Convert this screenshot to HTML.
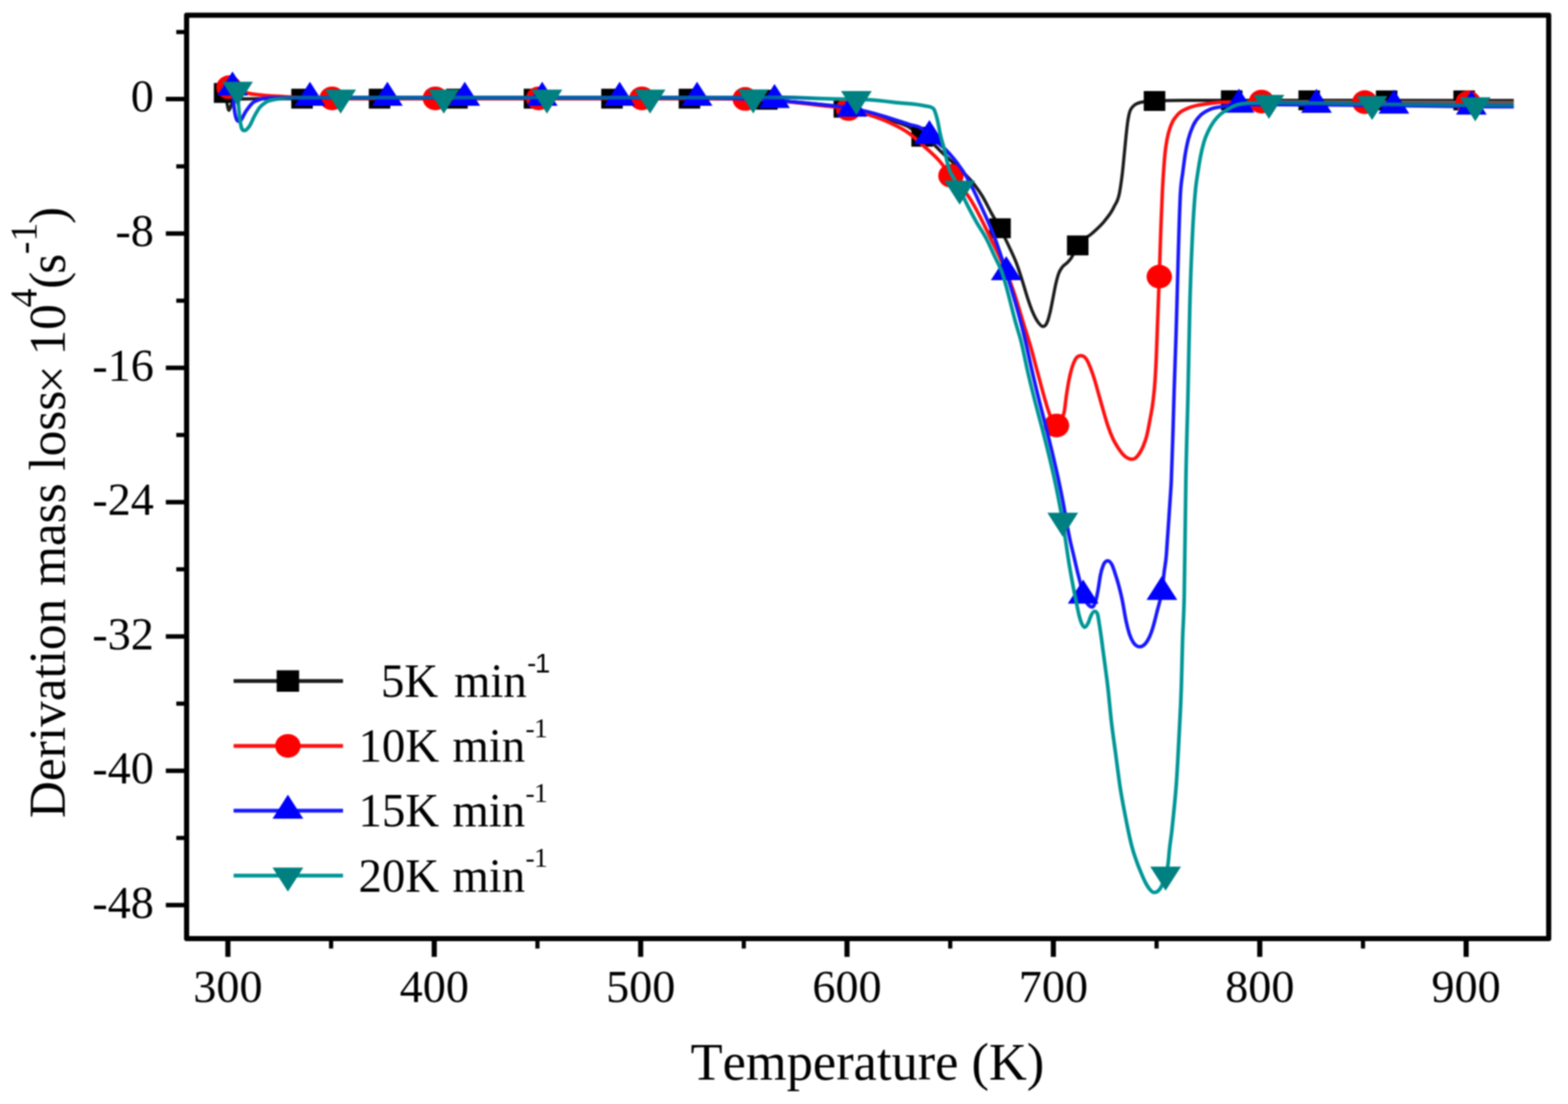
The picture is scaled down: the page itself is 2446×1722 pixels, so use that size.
<!DOCTYPE html>
<html lang="en">
<head>
<meta charset="utf-8">
<title>Derivation mass loss vs temperature</title>
<style>
html,body{margin:0;padding:0;background:#fff;}
body{width:2446px;height:1722px;overflow:hidden;}
svg{display:block;filter:blur(1.1px);}
text{font-family:"Liberation Serif","DejaVu Serif",serif;fill:#000;font-kerning:none;}
.tk{font-size:72px;}
.ttl{font-size:81.5px;}
.lg{font-size:73px;}
.sans{font-family:"Liberation Sans","DejaVu Sans",sans-serif;}
</style>
</head>
<body>
<svg width="2446" height="1722" viewBox="0 0 2446 1722">
<rect width="2446" height="1722" fill="#fff"/>
<defs><linearGradient id="tg" gradientUnits="userSpaceOnUse" x1="0" y1="0" x2="2446" y2="0"><stop offset="0.0000" stop-color="#009696"/><stop offset="0.1738" stop-color="#009696"/><stop offset="0.1860" stop-color="#0060aa"/><stop offset="0.4906" stop-color="#0060aa"/><stop offset="0.5274" stop-color="#009696"/><stop offset="0.7870" stop-color="#009696"/><stop offset="0.8136" stop-color="#00709a"/><stop offset="1.0000" stop-color="#00709a"/></linearGradient><linearGradient id="rg" gradientUnits="userSpaceOnUse" x1="0" y1="0" x2="2446" y2="0"><stop offset="0.0000" stop-color="#ff1010"/><stop offset="0.7890" stop-color="#ff1010"/><stop offset="0.8177" stop-color="#6e5555"/><stop offset="1.0000" stop-color="#6e5555"/></linearGradient></defs>
<g fill="none" stroke-linejoin="round" stroke-linecap="butt">
<g>
<path d="M350.4 145C351.4 149.3 352.5 153.8 353.5 158C354.7 162.8 355.8 172 357 172C358.7 172 360.3 163.8 362 161C364.7 156.6 367.3 154.7 370 154.5C380 153.9 390 153.9 400 153.9C633.3 153.9 866.7 153.9 1100 153.9C1116.7 153.9 1133.3 154 1150 154.3C1166.7 154.6 1183.3 154.8 1200 155.8C1212.3 156.5 1224.7 157.7 1237 158.8C1251.3 160.1 1265.7 161.3 1280 163C1292.4 164.5 1304.8 165.7 1317.2 168C1330.4 170.5 1343.7 173.8 1356.9 177.5C1366.9 180.3 1377 183.6 1387 187C1397.5 190.6 1407.9 192.3 1418.4 198.5C1425.1 202.5 1431.8 208.6 1438.5 213.3C1444.9 217.8 1451.2 220.4 1457.6 226.2C1460.2 228.6 1462.8 231.4 1465.4 234C1473.6 242.1 1481.8 249 1490 257C1500 266.8 1510 274.8 1520 288C1524.1 293.4 1528.1 298.9 1532.2 305.6C1536.9 313.2 1541.5 323.2 1546.2 331.7C1550.8 340 1555.4 347.2 1560 356C1562.7 361.1 1565.3 366.5 1568 372C1570.9 377.9 1573.7 383.7 1576.6 390C1579.8 396.9 1582.9 403.4 1586.1 411.8C1589 419.5 1591.9 428.7 1594.8 437.9C1597.4 446.2 1600.1 456 1602.7 464C1605.3 471.9 1607.9 479.6 1610.5 485.8C1613.4 492.7 1616.3 498.4 1619.2 502.4C1621.8 506 1624.5 509.3 1627.1 509.3C1629.4 509.3 1631.7 507.5 1634 501.5C1635.5 497.7 1636.9 492.1 1638.4 485.8C1639.9 479.6 1641.3 471.3 1642.8 464C1644.2 456.8 1645.7 448.5 1647.1 442.3C1648.6 436 1650 430.7 1651.5 426.6C1653.5 420.9 1655.6 418.8 1657.6 416.1C1659.9 413 1662.2 412.3 1664.5 410C1666.5 407.9 1668.6 406 1670.6 403.1C1674.1 398.1 1677.7 388.3 1681.2 382.8C1688.5 371.4 1695.7 371.2 1703 364.5C1710 358.1 1717 352.7 1724 343.5C1728.6 337.5 1733.2 332.6 1737.8 322.6C1740.7 316.3 1743.6 315.9 1746.5 300C1748 291.9 1749.4 282.1 1750.9 269.4C1752.1 259.3 1753.2 246.2 1754.4 234.5C1755.3 225.8 1756.1 216.5 1757 208.4C1757.6 202.5 1758.3 196.4 1758.9 191.7C1759.7 186 1760.4 182.2 1761.2 178.6C1763.3 168.9 1765.3 168.9 1767.4 166C1770.1 162.2 1772.8 162.1 1775.5 160.9C1778.3 159.6 1781.2 159.4 1784 158.8C1789.7 157.7 1795.3 157.6 1801 157.3C1817.3 156.4 1833.7 156.4 1850 156.4C2020.5 156.4 2190.9 156.6 2361.4 156.7" stroke="#1c1c1c" stroke-width="5"/>
<rect x="333.6" y="129.5" width="33.6" height="31" fill="#000000"/>
<rect x="454.4" y="138.4" width="33.6" height="31" fill="#000000"/>
<rect x="575.3" y="138.4" width="33.6" height="31" fill="#000000"/>
<rect x="696.1" y="138.4" width="33.6" height="31" fill="#000000"/>
<rect x="817" y="138.4" width="33.6" height="31" fill="#000000"/>
<rect x="937.9" y="138.4" width="33.6" height="31" fill="#000000"/>
<rect x="1058.7" y="138.4" width="33.6" height="31" fill="#000000"/>
<rect x="1179.5" y="140.1" width="33.6" height="31" fill="#000000"/>
<rect x="1300.4" y="152.5" width="33.6" height="31" fill="#000000"/>
<rect x="1421.7" y="197.8" width="33.6" height="31" fill="#000000"/>
<rect x="1543.2" y="340.5" width="33.6" height="31" fill="#000000"/>
<rect x="1664.4" y="367.3" width="33.6" height="31" fill="#000000"/>
<rect x="1784.2" y="142" width="33.6" height="31" fill="#000000"/>
<rect x="1904.6" y="140.9" width="33.6" height="31" fill="#000000"/>
<rect x="2025.5" y="141" width="33.6" height="31" fill="#000000"/>
<rect x="2146.3" y="141.1" width="33.6" height="31" fill="#000000"/>
<rect x="2267.2" y="141.1" width="33.6" height="31" fill="#000000"/>
</g>
<g>
<path d="M357.2 136.1C361.5 137.4 365.7 138.6 370 140C375 141.6 380 143.7 385 145C393.3 147.2 401.7 147.6 410 148.5C420 149.6 430 149.9 440 150.5C450 151.1 460 151.8 470 152.2C486.7 152.9 503.3 153.4 520 153.4C713.3 153.4 906.7 153.4 1100 153.4C1116.7 153.4 1133.3 153.6 1150 154C1166.7 154.4 1183.3 154.8 1200 156C1212.3 156.9 1224.7 158.2 1237 159.5C1251.3 161 1265.7 162.8 1280 164.5C1294.3 166.2 1308.7 166.9 1323 170C1333.9 172.3 1344.8 175.6 1355.7 179.2C1366.1 182.6 1376.6 186.2 1387 191C1397.5 195.8 1407.9 200.5 1418.4 208.2C1426.2 213.9 1434.1 221.5 1441.9 228.6C1449.7 235.7 1457.6 242 1465.4 251C1471.4 257.9 1477.4 266.7 1483.4 274.2C1492.7 285.8 1502 293 1511.3 307C1522.4 323.6 1533.4 346.5 1544.5 369.7C1557 395.9 1569.5 419.5 1582 456.8C1587.3 472.7 1592.7 491.7 1598 509C1601.2 519.4 1604.4 528.9 1607.6 540C1611.1 552 1614.5 566.1 1618 578.7C1624.3 601.5 1630.5 627.3 1636.8 644.5C1638.9 650.2 1640.9 656.3 1643 660C1644.7 663 1646.3 666 1648 666C1649.7 666 1651.3 663.2 1653 660C1654.3 657.4 1655.7 653.2 1657 650C1658 647.6 1659 647.9 1660 643.2C1661.2 637.8 1662.3 625 1663.5 617.1C1665 607.2 1666.4 598.3 1667.9 591C1669.3 583.9 1670.8 578.4 1672.2 573.6C1674 567.7 1675.7 563.7 1677.5 560.5C1680.4 555.3 1683.3 554.8 1686.2 554.8C1689.1 554.8 1692 556.1 1694.9 560.5C1696.9 563.6 1699 568.5 1701 573.6C1703 578.7 1705.1 584.5 1707.1 591C1709.2 597.8 1711.4 606 1713.5 613.5C1716 622.3 1718.5 631.4 1721 640C1723.5 648.6 1726 657.7 1728.5 665C1731 672.3 1733.5 678.6 1736 684C1738.8 690.1 1741.7 694.6 1744.5 698.9C1747.4 703.3 1750.3 707.4 1753.2 710.2C1755.5 712.4 1757.8 714 1760.1 715C1761.9 715.8 1763.6 716.3 1765.4 716.3C1767.1 716.3 1768.9 716.1 1770.6 715C1772.6 713.7 1774.7 711.4 1776.7 708.4C1778.7 705.4 1780.8 701.9 1782.8 697.1C1784.8 692.3 1786.9 687.9 1788.9 679.7C1790.6 672.7 1792.4 663.2 1794.1 653.6C1795.6 645.5 1797 639.8 1798.5 627.4C1799.7 617.6 1800.8 610.1 1802 591C1802.6 581.2 1803.2 570.1 1803.8 556.1C1804.4 542.9 1804.9 525.4 1805.5 510C1806.5 483.8 1807.4 459.4 1808.4 431.5C1809.2 408.4 1810 380.6 1810.8 358.7C1811.6 336.8 1812.4 316.3 1813.2 300C1813.9 286.4 1814.5 275.8 1815.2 266C1815.9 255.7 1816.6 247.2 1817.3 240C1818.4 228.7 1819.5 223.4 1820.6 217.1C1822.6 205.4 1824.7 201.1 1826.7 195.3C1830.2 185.5 1833.6 183 1837.1 178.8C1842.1 172.8 1847 171.6 1852 169.2C1857.8 166.4 1863.6 165.3 1869.4 164C1875.2 162.7 1881 162.1 1886.8 161.4C1892.6 160.7 1898.4 159.9 1904.2 159.6C1925 158.4 1945.8 158.4 1966.6 158.4C2020.7 158.4 2074.8 159.1 2128.9 159.3C2182.6 159.5 2236.3 159.6 2290 159.8C2313.8 159.9 2337.6 159.9 2361.4 160" stroke="url(#rg)" stroke-width="5.5"/>
<ellipse cx="357.2" cy="136.1" rx="19.8" ry="18.5" fill="#ff0000"/>
<ellipse cx="518.1" cy="153.4" rx="19.8" ry="18.5" fill="#ff0000"/>
<ellipse cx="679.2" cy="153.4" rx="19.8" ry="18.5" fill="#ff0000"/>
<ellipse cx="840.3" cy="153.4" rx="19.8" ry="18.5" fill="#ff0000"/>
<ellipse cx="1001.4" cy="153.4" rx="19.8" ry="18.5" fill="#ff0000"/>
<ellipse cx="1162.5" cy="154.3" rx="19.8" ry="18.5" fill="#ff0000"/>
<ellipse cx="1323.6" cy="170.1" rx="19.8" ry="18.5" fill="#ff0000"/>
<ellipse cx="1483.4" cy="274.2" rx="19.8" ry="18.5" fill="#ff0000"/>
<ellipse cx="1648.1" cy="663.7" rx="19.8" ry="18.5" fill="#ff0000"/>
<ellipse cx="1808.4" cy="431.5" rx="19.8" ry="18.5" fill="#ff0000"/>
<ellipse cx="1968" cy="158.4" rx="19.8" ry="18.5" fill="#ff0000"/>
<ellipse cx="2129.1" cy="159.3" rx="19.8" ry="18.5" fill="#ff0000"/>
<ellipse cx="2290.2" cy="159.8" rx="19.8" ry="18.5" fill="#ff0000"/>
</g>
<g>
<path d="M362.7 136.6C363.6 147.2 364.4 161.5 365.3 168.4C367.9 189.3 370.6 189.3 373.2 189.3C376.7 189.3 380.1 178.4 383.6 173.6C387.1 168.8 390.5 163.6 394 160.6C397.5 157.5 401 156.6 404.5 155.3C408.9 153.7 413.2 153.4 417.6 153C425.1 152.4 432.5 152.4 440 152.4C660 152.4 880 152.4 1100 152.4C1116.7 152.4 1133.3 153 1150 153.5C1166.7 154 1183.3 154.4 1200 155.5C1212.3 156.3 1224.7 157.7 1237 158.8C1251.3 160.1 1265.7 161.5 1280 163C1287.3 163.7 1294.7 164.4 1302 165.3C1311.2 166.5 1320.3 167.9 1329.5 169.5C1335.6 170.6 1341.7 171.6 1347.8 172.9C1360.9 175.7 1373.9 179.9 1387 183.9C1397.5 187.1 1407.9 190.7 1418.4 194.1C1424.9 196.2 1431.5 195.7 1438 200.6C1441.9 203.5 1445.9 208.6 1449.8 212.3C1457.6 219.6 1465.5 223.6 1473.3 231.5C1486 244.3 1498.6 258.8 1511.3 282C1517.1 292.6 1522.9 305.3 1528.7 317.8C1536.3 334.2 1543.8 349.8 1551.4 370C1557.5 386.3 1563.6 404.9 1569.7 424.5C1579.5 456 1589.4 488.1 1599.2 530C1602.8 545.3 1606.4 562.7 1610 578.7C1625.9 649.5 1641.8 697 1657.7 780C1661.4 799.2 1665 822.8 1668.7 840C1670.7 849.6 1672.8 857.4 1674.8 866.1C1676.8 874.8 1678.9 884 1680.9 892.3C1682.4 898.3 1683.8 903.6 1685.3 909.7C1686.8 915.8 1688.2 924 1689.7 929C1692.1 937.4 1694.6 939.5 1697 942.5C1699.3 945.3 1701.7 946.8 1704 946.8C1705.9 946.8 1707.8 943 1709.7 935.8C1710.9 931.3 1712 924.9 1713.2 918.4C1714.4 911.9 1715.5 902.4 1716.7 896.6C1718.1 889.5 1719.6 885.4 1721 881.8C1723.3 875.9 1725.7 874.8 1728 874.8C1730.3 874.8 1732.7 877 1735 881.8C1736.7 885.4 1738.5 891.2 1740.2 896.6C1741.9 902 1743.7 907.5 1745.4 914C1747.1 920.5 1748.9 927.5 1750.6 935.8C1752.6 945.5 1754.7 959.9 1756.7 969.2C1758.4 977.2 1760.2 983.9 1761.9 989.2C1763.9 995.4 1766 999.2 1768 1002.3C1769.7 1004.9 1771.5 1006.4 1773.2 1007.5C1774.7 1008.4 1776.1 1008.8 1777.6 1008.8C1779.6 1008.8 1781.7 1008.2 1783.7 1006.7C1785.7 1005.2 1787.8 1003 1789.8 999.7C1791.8 996.4 1793.9 992.3 1795.9 986.6C1797.6 981.8 1799.4 975.6 1801.1 969.2C1802.6 963.8 1804 957.4 1805.5 951.8C1806.7 947.3 1807.8 943.5 1809 938.7C1810.2 934 1811.3 931 1812.5 923.3C1813.7 915.6 1814.8 902 1816 892.3C1817.1 882.9 1818.3 879.9 1819.4 866.1C1820 858.8 1820.6 848.7 1821.2 840C1822.6 820.1 1823.9 801.4 1825.3 780C1825.9 770.1 1826.6 763.1 1827.2 749.4C1828.1 729.9 1829 699 1829.9 669.4C1830.5 650.8 1831 628.6 1831.6 610C1832.5 580.4 1833.4 557.2 1834.3 530C1836.7 457.4 1839.1 339.2 1841.5 300C1842.7 280.9 1843.8 278.9 1845 269.4C1846.2 259.9 1847.3 250.8 1848.5 243.2C1850.2 231.9 1852 224.3 1853.7 217.1C1856.3 206.4 1858.9 201.1 1861.5 195.3C1865.3 186.9 1869.1 183.6 1872.9 179.7C1877.5 174.9 1882.2 173 1886.8 170.9C1892.6 168.2 1898.4 167.7 1904.2 166.6C1913.7 164.7 1923.1 163.3 1932.6 163.3C1972.9 163.3 2013.1 163.4 2053.4 163.6C2093.7 163.8 2133.9 164.2 2174.2 164.7C2214.5 165.2 2254.7 166 2295 166.3C2317.1 166.5 2339.3 166.5 2361.4 166.6" stroke="#1818ff" stroke-width="5.5"/>
<path d="M362.7 111.6L386.7 149.1L338.7 149.1Z" fill="#0000ff"/>
<path d="M483.5 127.4L507.5 164.9L459.5 164.9Z" fill="#0000ff"/>
<path d="M604.3 127.4L628.3 164.9L580.3 164.9Z" fill="#0000ff"/>
<path d="M725 127.4L749 164.9L701 164.9Z" fill="#0000ff"/>
<path d="M845.8 127.4L869.8 164.9L821.8 164.9Z" fill="#0000ff"/>
<path d="M966.6 127.4L990.6 164.9L942.6 164.9Z" fill="#0000ff"/>
<path d="M1087.4 127.4L1111.4 164.9L1063.4 164.9Z" fill="#0000ff"/>
<path d="M1208.2 131.1L1232.2 168.6L1184.2 168.6Z" fill="#0000ff"/>
<path d="M1328.9 144.4L1352.9 181.9L1304.9 181.9Z" fill="#0000ff"/>
<path d="M1449.8 187.3L1473.8 224.8L1425.8 224.8Z" fill="#0000ff"/>
<path d="M1569.7 399.5L1593.7 437L1545.7 437Z" fill="#0000ff"/>
<path d="M1689.7 904L1713.7 941.5L1665.7 941.5Z" fill="#0000ff"/>
<path d="M1812.5 898.3L1836.5 935.8L1788.5 935.8Z" fill="#0000ff"/>
<path d="M1932.8 138.3L1956.8 175.8L1908.8 175.8Z" fill="#0000ff"/>
<path d="M2053.6 138.6L2077.6 176.1L2029.6 176.1Z" fill="#0000ff"/>
<path d="M2174.4 139.7L2198.4 177.2L2150.4 177.2Z" fill="#0000ff"/>
<path d="M2295.2 141.3L2319.2 178.8L2271.2 178.8Z" fill="#0000ff"/>
</g>
<g>
<path d="M370.5 140.1C370.9 146.9 371.4 154.6 371.8 160.6C372.7 173.1 373.6 181.5 374.5 188C376.7 203.7 378.8 203.7 381 203.7C383.6 203.7 386.3 200.8 388.9 197.1C391.5 193.4 394.1 186.3 396.7 181.5C399.3 176.7 401.9 171.9 404.5 168.4C408 163.7 411.5 161.5 415 159.3C420.2 156 425.5 155.8 430.7 154.7C437.2 153.4 443.8 153.2 450.3 152.8C460.2 152.2 470.1 152.2 480 152.2C686.7 152.2 893.3 152.2 1100 152.2C1140.3 152.2 1180.5 151.8 1220.8 151.8C1248 151.8 1275.2 154 1302.4 154.4C1313.6 154.6 1324.7 154.4 1335.9 154.6C1342.5 154.7 1349.1 155.2 1355.7 155.7C1371.4 156.8 1387 158.7 1402.7 160.4C1415.8 161.8 1428.8 161.8 1441.9 165.1C1446.6 166.3 1451.3 165.1 1456 169.3C1458.1 171.2 1460.2 178.4 1462.3 187C1463.9 193.4 1465.4 203.6 1467 210.6C1469.1 220 1471.2 225.9 1473.3 234.1C1475.6 243.2 1478 255.7 1480.3 263C1483.1 271.8 1485.9 274.2 1488.7 279.5C1491.5 284.7 1494.2 289.2 1497 294.6C1500 300.6 1503.1 307.8 1506.1 314C1511.9 326 1517.8 336.7 1523.6 347.1C1528.8 356.3 1534 363.1 1539.2 373.2C1543.3 381.1 1547.3 390.7 1551.4 399.4C1554.9 407 1558.5 412.9 1562 422C1570 442.7 1578 481.5 1586 509C1588.1 516.1 1590.1 522.2 1592.2 530C1595.8 543.7 1599.4 562.7 1603 578.7C1619.2 650.7 1635.4 694.4 1651.6 780C1653.6 790.4 1655.5 800.1 1657.5 812C1658.9 820.7 1660.4 830.5 1661.8 840C1663.5 851.4 1665.3 864 1667 874.8C1669 887.5 1671.1 898.8 1673.1 909.7C1674.8 919 1676.6 927.3 1678.3 935.8C1680 944.3 1681.8 953.9 1683.5 960.5C1685 966.1 1686.4 970.6 1687.9 973.6C1689.3 976.5 1690.8 978.3 1692.2 978.3C1694 978.3 1695.7 975.3 1697.5 971.8C1698.9 968.9 1700.4 963.4 1701.8 960.5C1703.7 956.7 1705.6 953.5 1707.5 953.5C1709.1 953.5 1710.7 953.5 1712.3 958.7C1713.2 961.5 1714 968.2 1714.9 973.6C1715.8 979 1716.6 984.9 1717.5 991C1718.7 999.2 1719.8 1008.4 1721 1017.1C1722.2 1025.8 1723.3 1034.4 1724.5 1043.2C1725.6 1051.8 1726.8 1059.8 1727.9 1069.4C1729.8 1085.4 1731.7 1107.9 1733.6 1124.5C1735.9 1144.6 1738.2 1159.5 1740.5 1176.8C1742.8 1194.3 1745.2 1213.8 1747.5 1229C1750 1245.1 1752.4 1257.1 1754.9 1270C1756.6 1279.1 1758.4 1288 1760.1 1296.1C1762.1 1305.6 1764.2 1314.7 1766.2 1322.3C1768.5 1331 1770.9 1337.4 1773.2 1344C1775.5 1350.5 1777.8 1356 1780.1 1361.5C1782.4 1367.1 1784.8 1372.7 1787.1 1377.1C1789.1 1380.9 1791.2 1384.3 1793.2 1386.7C1795.5 1389.5 1797.9 1392 1800.2 1392C1802.5 1392 1804.8 1391.6 1807.1 1389.3C1808.6 1387.8 1810 1386 1811.5 1383.2C1813.8 1378.8 1816 1372.8 1818.3 1364.3C1819.5 1359.7 1820.8 1357.9 1822 1348.4C1822.9 1341.8 1823.7 1330.1 1824.6 1322.3C1825.7 1312.1 1826.9 1306.1 1828 1296.1C1828.9 1288.2 1829.8 1279.2 1830.7 1270C1832.2 1254.7 1833.7 1241.7 1835.2 1220C1836.7 1198.8 1838.1 1171.6 1839.6 1142C1840.7 1119.8 1841.8 1105.5 1842.9 1069.4C1843.5 1049.7 1844.1 1020 1844.7 999.7C1845.6 970.4 1846.4 971.7 1847.3 930C1848.2 888.3 1849 798.9 1849.9 749.4C1851 684.7 1852.2 661 1853.3 610C1854.2 569.5 1855.1 515.8 1856 480C1857.3 426.9 1858.7 399.3 1860 370C1861.7 333.4 1863.3 312.5 1865 295C1866.2 282.8 1867.3 277.2 1868.5 269.4C1870 259.6 1871.4 250.7 1872.9 243.2C1874.6 234.3 1876.4 227.5 1878.1 221.5C1880.4 213.4 1882.8 209 1885.1 204C1888 197.8 1890.9 193.3 1893.8 189.2C1897.3 184.3 1900.7 180.9 1904.2 177.9C1907.1 175.3 1910.1 173.6 1913 171.8C1917.5 169 1922 166.4 1926.5 164.6C1935.2 161.1 1943.9 160.8 1952.6 160.6C1961.9 160.4 1971.2 160.4 1980.5 160.4C2034 160.4 2087.5 161.7 2141 162.3C2194.4 162.9 2247.9 163.8 2301.3 164.2C2321.3 164.3 2341.4 164.4 2361.4 164.5" stroke="url(#tg)" stroke-width="5.7"/>
<path d="M370.5 165.1L394.5 127.6L346.5 127.6Z" fill="#008080"/>
<path d="M531.4 177.2L555.4 139.7L507.4 139.7Z" fill="#008080"/>
<path d="M692.3 177.2L716.3 139.7L668.3 139.7Z" fill="#008080"/>
<path d="M853.2 177.2L877.2 139.7L829.2 139.7Z" fill="#008080"/>
<path d="M1014.1 177.2L1038.1 139.7L990.1 139.7Z" fill="#008080"/>
<path d="M1175 176.9L1199 139.4L1151 139.4Z" fill="#008080"/>
<path d="M1335.9 179.6L1359.9 142.1L1311.9 142.1Z" fill="#008080"/>
<path d="M1497 319.2L1521 281.7L1473 281.7Z" fill="#008080"/>
<path d="M1657.8 837.2L1681.8 799.7L1633.8 799.7Z" fill="#008080"/>
<path d="M1818.3 1389.3L1842.3 1351.8L1794.3 1351.8Z" fill="#008080"/>
<path d="M1979.5 185.4L2003.5 147.9L1955.5 147.9Z" fill="#008080"/>
<path d="M2140.4 187.3L2164.4 149.8L2116.4 149.8Z" fill="#008080"/>
<path d="M2301.3 189.2L2325.3 151.7L2277.3 151.7Z" fill="#008080"/>
</g>
</g>
<g stroke="#000" fill="none">
<rect x="291.1" y="23.7" width="2124.8" height="1440.4" stroke-width="8" stroke-linejoin="round"/>
<path d="M291.1 1411.7H258.7M291.1 1202.2H258.7M291.1 992.7H258.7M291.1 783.2H258.7M291.1 573.7H258.7M291.1 364.2H258.7M291.1 154.6H258.7" stroke-width="7"/>
<path d="M291.1 1307H275M291.1 1097.5H275M291.1 887.9H275M291.1 678.4H275M291.1 468.9H275M291.1 259.4H275M291.1 49.9H275" stroke-width="6.5"/>
<path d="M355.5 1464.1V1492.4M677.4 1464.1V1492.4M999.4 1464.1V1492.4M1321.3 1464.1V1492.4M1643.2 1464.1V1492.4M1965.2 1464.1V1492.4M2287.1 1464.1V1492.4" stroke-width="8"/>
<path d="M516.5 1464.1V1479.6M838.4 1464.1V1479.6M1160.3 1464.1V1479.6M1482.3 1464.1V1479.6M1804.2 1464.1V1479.6M2126.2 1464.1V1479.6" stroke-width="6.5"/>
</g>
<g class="tk" text-anchor="middle">
<text x="355.5" y="1563">300</text>
<text x="677.4" y="1563">400</text>
<text x="999.4" y="1563">500</text>
<text x="1321.3" y="1563">600</text>
<text x="1643.2" y="1563">700</text>
<text x="1965.2" y="1563">800</text>
<text x="2287.1" y="1563">900</text>
</g>
<g class="tk" text-anchor="end">
<text x="240" y="174.4">0</text>
<text x="240" y="384">-8</text>
<text x="240" y="593.5">-16</text>
<text x="240" y="803">-24</text>
<text x="240" y="1012.5">-32</text>
<text x="240" y="1222">-40</text>
<text x="240" y="1431.5">-48</text>
</g>
<text x="1353.2" y="1684" text-anchor="middle" style="font-size:81.8px">Temperature (K)</text>
<text transform="translate(100.5 1276) rotate(-90)"><tspan x="0" y="0" style="font-size:80px">Derivation mass loss</tspan><tspan x="662" y="6.7" style="font-size:78px">× </tspan><tspan x="721.5" y="0" style="font-size:80px">10</tspan><tspan x="796.5" y="-43.2" style="font-size:59px">4</tspan><tspan x="825.5" y="0" style="font-size:80px">(</tspan><tspan x="849.1" y="0" style="font-size:80px">s</tspan><tspan x="879.5" y="-43.2" style="font-size:59px">-1</tspan><tspan x="926.8" y="0" style="font-size:80px">)</tspan></text>
<g>
<path d="M364.4 1062.2H535.1" stroke="#1c1c1c" stroke-width="6" fill="none"/>
<rect x="431.6" y="1045.5" width="35" height="33.5" fill="#000000"/>
<text class="lg" x="821.8" y="1086.9" text-anchor="end" style="word-spacing:6.5px">5K min<tspan class="sans" x="822.3" y="1048.6" text-anchor="start" style="font-size:43px;letter-spacing:-2px">-1</tspan></text>
<path d="M364.4 1163.4H535.1" stroke="#ff1010" stroke-width="6" fill="none"/>
<ellipse cx="449.1" cy="1163.4" rx="19.8" ry="18.5" fill="#ff0000"/>
<text class="lg" x="819.3" y="1188.1" text-anchor="end" style="word-spacing:2.5px">10K min<tspan x="819.8" y="1149.8" text-anchor="start" style="font-size:43px;letter-spacing:-1px">-1</tspan></text>
<path d="M364.4 1264.6H535.1" stroke="#1818ff" stroke-width="6" fill="none"/>
<path d="M449.1 1239.6L473.1 1277.1L425.1 1277.1Z" fill="#0000ff"/>
<text class="lg" x="819.3" y="1289.3" text-anchor="end" style="word-spacing:2.5px">15K min<tspan x="819.8" y="1251" text-anchor="start" style="font-size:43px;letter-spacing:-1px">-1</tspan></text>
<path d="M364.4 1365.8H535.1" stroke="#009696" stroke-width="6" fill="none"/>
<path d="M449.1 1390.8L473.1 1353.3L425.1 1353.3Z" fill="#008080"/>
<text class="lg" x="819.3" y="1390.5" text-anchor="end" style="word-spacing:2.5px">20K min<tspan x="819.8" y="1352.2" text-anchor="start" style="font-size:43px;letter-spacing:-1px">-1</tspan></text>
</g>
</svg>
</body>
</html>
